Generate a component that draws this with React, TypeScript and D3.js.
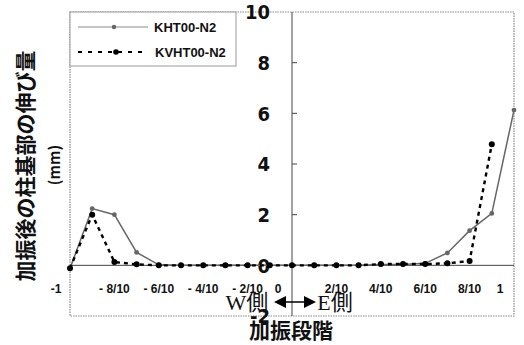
import React from 'react'
import * as d3 from 'd3'

// 加振段階 (-1 .. 1, 1/10 step)
const stages = [-1, -0.9, -0.8, -0.7, -0.6, -0.5, -0.4, -0.3, -0.2, -0.1, 0, 0.1, 0.2, 0.3, 0.4, 0.5, 0.6, 0.7, 0.8, 0.9, 1]
const khtValues = [-0.12, 2.24, 2.0, 0.51, 0.02, 0.0, 0.0, 0.0, 0.0, 0.0, 0.0, 0.0, 0.0, 0.0, 0.03, 0.03, 0.08, 0.49, 1.37, 2.05, 6.13]
const kvhtValues = [-0.12, 2.0, 0.13, 0.04, 0.0, 0.0, 0.0, 0.0, 0.0, 0.0, 0.0, 0.0, 0.0, 0.0, 0.05, 0.05, 0.05, 0.08, 0.17, 4.78, null]
const seriesNames = ['KHT00-N2', 'KVHT00-N2']

const xTickValues = [-1, -0.8, -0.6, -0.4, -0.2, 0, 0.2, 0.4, 0.6, 0.8, 1]
const xTickLabels = ['-1', '- 8/10', '- 6/10', '- 4/10', '- 2/10', '0', '2/10', '4/10', '6/10', '8/10', '1']
const yTickValues = [-2, 0, 2, 4, 6, 8, 10]

const W = 524
const H = 345
const plot = { left: 70, right: 514, top: 12, bottom: 316 }

const sans = "'Liberation Sans', Arial, sans-serif"
const narrow = "'Liberation Sans Narrow', 'DejaVu Sans Condensed', 'Liberation Sans', sans-serif"
const jp = "'Noto Sans CJK JP', sans-serif"
const serif = "'Liberation Serif', 'Noto Sans CJK JP', serif"

export default function App() {
  const x = d3.scaleLinear().domain([-1, 1]).range([plot.left, plot.right])
  const y = d3.scaleLinear().domain([-2, 10]).range([plot.bottom, plot.top])
  const x0 = x(0)
  const yZero = y(0)

  const line = d3
    .line<[number, number | null]>()
    .defined(d => d[1] != null)
    .x(d => x(d[0]))
    .y(d => y(d[1] as number))

  const khtPts = stages.map((s, i) => [s, khtValues[i]] as [number, number | null])
  const kvhtPts = stages.map((s, i) => [s, kvhtValues[i]] as [number, number | null])

  return (
    <svg width={W} height={H} style={{ position: 'absolute', left: 0, top: 0, background: '#fff' }}>
      <rect x={0} y={0} width={W} height={H} fill="#fff" />
      {/* plot frame */}
      <rect
        x={plot.left}
        y={plot.top}
        width={plot.right - plot.left}
        height={plot.bottom - plot.top}
        fill="none"
        stroke="#888"
        strokeWidth={1.2}
        strokeDasharray="1.5 1"
      />
      {/* axes */}
      <line x1={plot.left} x2={plot.right} y1={yZero} y2={yZero} stroke="#444" strokeWidth={1} />
      <line x1={x0} x2={x0} y1={plot.top} y2={plot.bottom} stroke="#444" strokeWidth={1} />
      {yTickValues.filter(v => v > -2 && v < 10 && v !== 0).map(v => (
        <line key={v} x1={x0} x2={x0 + 5} y1={y(v)} y2={y(v)} stroke="#444" strokeWidth={1} />
      ))}
      {yTickValues.map(v => (
        <text
          key={v}
          x={270}
          y={y(v)}
          dy="0.36em"
          textAnchor="end"
          fontFamily={narrow}
          fontWeight="bold"
          fontSize={20}
          fill="#111"
        >
          {v}
        </text>
      ))}
      {xTickValues.map((v, i) => (
        <text
          key={v}
          x={x(v) - (Number.isInteger(v) ? 14 : 0)}
          y={289}
          dy="0.36em"
          textAnchor="middle"
          fontFamily={sans}
          fontWeight="bold"
          fontSize={12}
          fill="#111"
        >
          {xTickLabels[i]}
        </text>
      ))}

      {/* series */}
      <path d={line(khtPts) || ''} fill="none" stroke="#666" strokeWidth={1.5} />
      {khtPts.filter(d => d[1] != null).map(d => (
        <circle key={'a' + d[0]} cx={x(d[0])} cy={y(d[1] as number)} r={2.4} fill="#666" />
      ))}
      <path d={line(kvhtPts) || ''} fill="none" stroke="#000" strokeWidth={2.4} strokeDasharray="4 4" />
      {kvhtPts.filter(d => d[1] != null).map(d => (
        <circle key={'b' + d[0]} cx={x(d[0])} cy={y(d[1] as number)} r={3} fill="#000" />
      ))}

      {/* legend */}
      <rect x={plot.left} y={plot.top} width={166} height={54} fill="#fff" stroke="#999" strokeWidth={1} />
      <line x1={78} x2={148} y1={27} y2={27} stroke="#888" strokeWidth={1} />
      <circle cx={114} cy={27} r={2.2} fill="#666" />
      <text x={154} y={27} dy="0.36em" fontFamily={sans} fontWeight="bold" fontSize={13} fill="#111">
        {seriesNames[0]}
      </text>
      <line x1={78} x2={148} y1={52} y2={52} stroke="#000" strokeWidth={2.2} strokeDasharray="4 6" />
      <circle cx={116} cy={52} r={2.8} fill="#000" />
      <text x={155} y={52} dy="0.36em" fontFamily={sans} fontWeight="bold" fontSize={13} fill="#111">
        {seriesNames[1]}
      </text>

      {/* W / E annotation */}
      <text x={247} y={310} textAnchor="middle" fontFamily={serif} fontSize={22} fill="#111">
        W側
      </text>
      <line x1={283} x2={307} y1={302} y2={302} stroke="#000" strokeWidth={1.5} />
      <path d="M274,302 L286,296 L286,308 Z" fill="#000" />
      <path d="M316,302 L304,296 L304,308 Z" fill="#000" />
      <text x={335} y={310} textAnchor="middle" fontFamily={serif} fontSize={22} fill="#111">
        E側
      </text>

      {/* axis titles */}
      <text
        transform={`translate(25,166) rotate(-90)`}
        textAnchor="middle"
        dy="0.36em"
        fontFamily={jp}
        fontWeight="bold"
        fontSize={21}
        fill="#111"
      >
        加振後の柱基部の伸び量
      </text>
      <text
        transform={`translate(55,165) rotate(-90)`}
        textAnchor="middle"
        dy="0.36em"
        fontFamily={jp}
        fontWeight="bold"
        fontSize={15}
        fill="#111"
      >
        (mm)
      </text>
      <text x={291} y={338} textAnchor="middle" fontFamily={jp} fontWeight="bold" fontSize={21} fill="#111">
        加振段階
      </text>
    </svg>
  )
}
